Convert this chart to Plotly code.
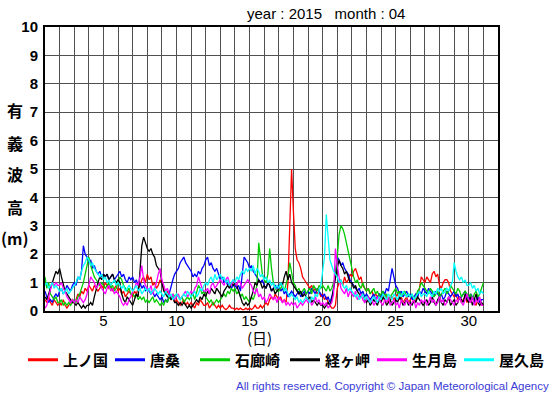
import plotly.graph_objects as go

# ---- data: significant wave height (m), 3-hourly, April 2015 ----
hours = list(range(0, 721, 3))          # hours since Apr 1 00:00
days = [1 + h / 24 for h in hours]      # day-of-month position

names = ["上ノ国", "唐桑", "石廊崎", "経ヶ岬", "生月島", "屋久島"]
colors = ["#ff0000", "#0000ff", "#00cc00", "#000000", "#ff00ff", "#00ffff"]

kaminokuni = [
    0.4, 0.3, 0.5, 0.3, 0.2, 0.4, 0.3, 0.2,
    0.3, 0.2, 0.4, 0.2, 0.1, 0.2, 0.3, 0.4,
    0.3, 0.4, 0.6, 0.5, 0.7, 0.6, 0.8, 0.7,
    0.9, 0.8, 0.7, 0.9, 0.8, 0.7, 0.8, 0.9,
    0.8, 1.0, 0.9, 0.8, 0.9, 0.7, 0.8, 0.9,
    0.7, 0.8, 0.6, 0.7, 0.5, 0.6, 0.7, 0.6,
    0.5, 0.7, 0.6, 0.8, 0.9, 1.1, 1.2, 1.0,
    1.3, 1.1, 1.2, 0.9, 1.0, 0.8, 0.9, 1.1,
    1.0, 0.8, 0.6, 0.7, 0.5, 0.4, 0.5, 0.3,
    0.4, 0.3, 0.2, 0.3, 0.4, 0.2, 0.3, 0.2,
    0.3, 0.2, 0.1, 0.3, 0.2, 0.4, 0.3, 0.2,
    0.2, 0.3, 0.1, 0.2, 0.3, 0.2, 0.1, 0.2,
    0.1, 0.2, 0.1, 0.05, 0.1, 0.2, 0.1, 0.1,
    0.05, 0.1, 0.05, 0.1, 0.05, 0.05, 0.1, 0.05,
    0.1, 0.05, 0.1, 0.2, 0.1, 0.1, 0.2, 0.1,
    0.2, 0.3, 0.2, 0.4, 0.5, 0.4, 0.6, 0.5,
    0.4, 0.5, 0.3, 0.4, 0.3, 1.0, 2.8, 5.0,
    3.5, 2.2, 1.8, 1.7, 1.5, 1.2, 1.1, 1.0,
    0.9, 0.8, 0.9, 0.7, 0.8, 0.6, 0.7, 0.5,
    0.6, 0.4, 0.5, 0.3, 0.2, 0.1, 0.1, 0.2,
    0.8, 1.0, 1.1, 0.9, 1.2, 1.0, 1.1, 1.3,
    1.2, 1.4, 1.5, 1.3, 1.1, 1.2, 0.9, 0.8,
    0.7, 0.8, 0.6, 0.7, 0.5, 0.6, 0.5, 0.4,
    0.5, 0.4, 0.6, 0.5, 0.3, 0.4, 0.5, 0.4,
    0.5, 0.6, 0.4, 0.5, 0.3, 0.4, 0.5, 0.3,
    0.4, 0.5, 0.3, 0.4, 0.5, 0.8, 1.2, 1.1,
    1.0, 1.2, 1.1, 1.0, 1.3, 1.4, 1.2, 1.3,
    0.9, 0.8, 1.0, 1.1, 1.1, 1.0, 0.7, 0.6,
    0.5, 0.6, 0.4, 0.5, 0.3, 0.4, 0.5, 0.3,
    0.4, 0.3, 0.5, 0.3, 0.2, 0.4, 0.3, 0.2,
    0.2,
]

karakuwa = [
    0.7, 0.5, 0.3, 0.4, 0.3, 0.5, 0.6, 0.5,
    0.7, 0.8, 0.6, 0.7, 0.9, 0.8, 0.7, 0.9,
    1.0, 0.9, 1.2, 1.1, 1.4, 2.3, 2.0, 1.9,
    1.7, 1.8, 1.5, 1.6, 1.4, 1.3, 1.4, 1.2,
    1.3, 1.2, 1.3, 1.1, 1.2, 1.3, 1.1, 1.2,
    1.3, 1.4, 1.2, 1.3, 1.1, 1.0, 1.2, 1.1,
    1.2, 1.0, 1.1, 0.9, 1.0, 0.8, 0.9, 0.7,
    0.8, 0.7, 0.6, 0.7, 0.5, 0.6, 0.5, 0.4,
    0.5, 0.3, 0.4, 0.3, 0.6, 0.9, 1.1, 1.3,
    1.4, 1.5, 1.7, 1.8, 1.9, 1.7, 1.6, 1.5,
    1.4, 1.2, 1.3, 1.2, 1.4, 1.3, 1.5, 1.6,
    1.8, 1.9, 1.6, 1.7, 1.5, 1.4, 1.5, 1.3,
    1.1, 1.2, 1.0, 1.1, 0.9, 1.0, 0.8, 0.9,
    0.9, 0.8, 0.9, 0.7, 1.2, 1.9, 1.8, 1.7,
    1.5, 1.6, 1.4, 1.3, 1.2, 1.1, 1.0, 1.1,
    0.9, 0.8, 1.0, 0.9, 0.7, 0.8, 0.9, 0.8,
    0.9, 0.7, 0.8, 0.6, 0.7, 0.5, 0.6, 0.7,
    0.6, 0.5, 0.6, 0.7, 0.5, 0.6, 0.7, 0.6,
    0.7, 0.6, 0.8, 0.7, 0.6, 0.8, 0.7, 0.6,
    0.5, 0.6, 0.4, 0.5, 0.3, 0.5, 0.8, 1.3,
    1.9, 1.8, 1.6, 1.7, 1.5, 1.4, 1.3, 1.1,
    1.0, 0.9, 0.8, 0.7, 0.8, 0.6, 0.7, 0.5,
    0.6, 0.5, 0.4, 0.5, 0.6, 0.4, 0.5, 0.6,
    0.5, 0.7, 0.6, 0.8, 0.7, 1.1, 1.5, 1.2,
    0.9, 0.8, 0.6, 0.7, 0.5, 0.6, 0.7, 0.5,
    0.6, 0.4, 0.5, 0.6, 0.5, 0.7, 0.6, 0.8,
    0.7, 0.6, 0.8, 0.7, 0.6, 0.5, 0.7, 0.6,
    0.5, 0.6, 0.4, 0.5, 0.7, 0.6, 0.5, 0.6,
    0.7, 0.5, 0.6, 0.4, 0.5, 0.6, 0.7, 0.5,
    0.4, 0.6, 0.5, 0.3, 0.4, 0.5, 0.3, 0.4,
    0.4,
]

irozaki = [
    1.2, 0.8, 1.0, 0.6, 0.5, 0.4, 0.5, 0.3,
    0.3, 0.4, 0.2, 0.3, 0.2, 0.3, 0.2, 0.3,
    0.4, 0.3, 0.5, 0.6, 0.8, 1.0, 1.3, 1.6,
    1.9, 1.6, 1.4, 1.2, 1.1, 1.0, 0.9, 1.0,
    0.9, 0.8, 0.9, 1.0, 0.8, 0.9, 0.7, 0.8,
    1.0, 1.2, 1.1, 0.9, 0.8, 0.7, 0.8, 0.6,
    0.6, 0.5, 0.6, 0.4, 0.5, 0.4, 0.5, 0.3,
    0.4, 0.3, 0.4, 0.5, 0.3, 0.4, 0.3, 0.2,
    0.3, 0.2, 0.4, 0.3, 0.5, 0.4, 0.6, 0.5,
    0.6, 0.5, 0.4, 0.5, 0.3, 0.4, 0.5, 0.4,
    0.5, 0.6, 0.4, 0.7, 0.9, 0.8, 0.6, 0.7,
    0.5, 0.4, 0.3, 0.4, 0.2, 0.3, 0.4, 0.3,
    0.4, 0.5, 0.6, 0.5, 0.7, 0.6, 0.8, 0.7,
    0.8, 0.6, 0.7, 0.5, 0.6, 0.4, 0.5, 0.4,
    0.3, 0.5, 0.4, 0.6, 0.9, 2.4, 1.8, 1.3,
    1.1, 1.0, 1.3, 2.2, 1.5, 1.0, 0.8, 0.7,
    0.7, 0.8, 0.9, 0.7, 1.0, 1.2, 1.7, 1.3,
    1.0, 0.9, 0.7, 0.8, 0.6, 0.7, 0.8, 0.6,
    0.7, 0.8, 0.6, 0.9, 0.8, 0.7, 0.9, 0.8,
    0.9, 0.8, 0.7, 0.9, 0.7, 0.8, 1.0, 1.2,
    1.9, 2.7, 3.0, 2.9, 2.7, 2.4, 2.0, 1.7,
    1.4, 1.2, 1.0, 1.1, 0.9, 0.8, 1.0, 0.8,
    0.7, 0.8, 0.6, 0.7, 0.8, 0.6, 0.7, 0.5,
    0.6, 0.7, 0.5, 0.6, 0.4, 0.5, 0.6, 0.7,
    0.8, 0.6, 0.7, 0.5, 0.6, 0.7, 0.5, 0.6,
    0.5, 0.6, 0.4, 0.5, 0.7, 0.8, 1.0, 0.9,
    0.8, 0.7, 0.6, 0.8, 0.7, 0.5, 0.6, 0.7,
    0.5, 0.6, 0.7, 0.8, 0.6, 0.7, 0.9, 0.8,
    0.7, 0.6, 0.8, 0.7, 0.5, 0.6, 0.7, 0.6,
    0.5, 0.6, 0.4, 0.6, 0.7, 0.5, 0.6, 0.8,
    1.0,
]

kyogamisaki = [
    0.5, 0.4, 0.6, 0.8, 1.0, 1.2, 1.4, 1.3,
    1.5, 1.2, 0.9, 0.7, 0.6, 0.5, 0.4, 0.3,
    0.3, 0.2, 0.3, 0.2, 0.1, 0.2, 0.1, 0.2,
    0.2, 0.3, 0.2, 0.5, 0.8, 1.0, 1.2, 1.1,
    1.3, 1.2, 1.3, 1.1, 1.2, 1.3, 1.1, 1.0,
    1.1, 1.0, 0.6, 0.4, 0.3, 0.5, 0.4, 0.3,
    0.2, 0.4, 0.6, 0.5, 1.5, 2.3, 2.6, 2.4,
    2.2, 2.1, 2.2, 2.0, 1.9, 1.6, 1.5, 1.4,
    1.0, 0.7, 0.6, 0.5, 0.6, 0.4, 0.5, 0.3,
    0.3, 0.2, 0.3, 0.2, 0.3, 0.2, 0.1, 0.2,
    0.1, 0.2, 0.3, 0.4, 0.3, 0.5, 0.4, 0.6,
    0.5, 0.7, 0.6, 0.8, 0.7, 0.6, 0.8, 0.7,
    0.6, 0.5, 0.7, 0.8, 0.9, 0.8, 1.0, 0.9,
    1.0, 0.9, 0.7, 0.5, 0.3, 0.2, 0.3, 0.2,
    0.3, 0.5, 0.7, 1.0, 0.9, 1.1, 1.0, 0.8,
    0.9, 0.8, 1.0, 0.9, 0.7, 0.8, 0.6, 0.7,
    0.8, 1.0, 0.9, 1.2, 1.4, 1.1, 1.3, 1.0,
    0.9, 0.8, 0.7, 0.6, 0.7, 0.5, 0.6, 0.5,
    0.4, 0.5, 0.3, 0.4, 0.3, 0.2, 0.3, 0.2,
    0.2, 0.1, 0.2, 0.3, 0.2, 0.4, 0.8, 1.2,
    1.5, 1.8, 1.6, 1.5, 1.3, 1.4, 1.2, 1.0,
    1.0, 0.8, 0.9, 0.7, 0.6, 0.5, 0.6, 0.4,
    0.3, 0.4, 0.2, 0.3, 0.4, 0.3, 0.2, 0.4,
    0.3, 0.5, 0.4, 0.2, 0.3, 0.4, 0.2, 0.3,
    0.4, 0.3, 0.5, 0.4, 0.2, 0.3, 0.4, 0.2,
    0.3, 0.2, 0.4, 0.3, 0.5, 0.4, 0.3, 0.2,
    0.3, 0.4, 0.2, 0.3, 0.5, 0.3, 0.2, 0.4,
    0.5, 0.3, 0.2, 0.4, 0.3, 0.5, 0.2, 0.3,
    0.4, 0.2, 0.3, 0.5, 0.4, 0.3, 0.6, 0.4,
    0.3, 0.5, 0.2, 0.4, 0.6, 0.3, 0.2, 0.3,
    0.2,
]

ikitsukishima = [
    0.1, 0.2, 0.5, 0.8, 1.0, 0.9, 1.0, 0.9,
    0.9, 1.0, 0.8, 0.7, 0.5, 0.4, 0.3, 0.4,
    0.3, 0.4, 0.3, 0.5, 0.4, 0.3, 0.4, 0.6,
    0.9, 1.2, 1.1, 1.0, 0.8, 0.9, 1.0, 0.8,
    0.7, 0.6, 0.8, 0.9, 0.7, 0.8, 0.6, 0.7,
    0.6, 0.5, 0.3, 0.2, 0.3, 0.2, 0.4, 0.5,
    0.7, 0.8, 1.0, 0.9, 1.2, 1.6, 1.1, 0.9,
    0.8, 0.7, 0.9, 0.6, 0.8, 1.0, 1.3, 1.5,
    1.1, 0.9, 0.7, 0.8, 0.6, 0.5, 0.6, 0.4,
    0.5, 0.6, 0.4, 0.5, 0.6, 0.7, 0.5, 0.6,
    0.7, 0.6, 0.8, 0.9, 1.2, 1.0, 0.8, 0.7,
    0.7, 0.8, 0.6, 0.9, 1.0, 0.8, 0.9, 1.0,
    1.1, 1.0, 0.9, 1.1, 1.2, 1.0, 0.9, 1.1,
    1.0, 0.9, 1.1, 1.0, 0.8, 0.9, 1.0, 1.1,
    1.0, 0.9, 0.7, 0.6, 0.8, 0.5, 0.6, 0.4,
    0.5, 0.3, 0.4, 0.6, 0.5, 0.4, 0.5, 0.3,
    0.5, 0.4, 0.3, 0.4, 0.2, 0.3, 0.2, 0.3,
    0.2, 0.3, 0.1, 0.2, 0.3, 0.2, 0.3, 0.4,
    0.3, 0.4, 0.2, 0.3, 0.5, 0.3, 0.4, 0.2,
    0.3, 0.2, 0.3, 0.1, 0.2, 0.3, 0.6, 2.2,
    1.6, 1.1, 0.8, 0.7, 0.6, 0.8, 0.5, 0.7,
    0.6, 0.5, 0.7, 0.4, 0.5, 0.6, 0.4, 0.3,
    0.4, 0.5, 0.3, 0.4, 0.2, 0.3, 0.5, 0.4,
    0.3, 0.2, 0.4, 0.3, 0.5, 0.2, 0.3, 0.4,
    0.2, 0.3, 0.1, 0.4, 0.3, 0.2, 0.4, 0.3,
    0.2, 0.3, 0.4, 0.1, 0.3, 0.2, 0.4, 0.3,
    0.4, 0.2, 0.3, 0.5, 0.3, 0.4, 0.2, 0.3,
    0.5, 0.3, 0.4, 0.2, 0.3, 0.5, 0.4, 0.3,
    0.2, 0.4, 0.3, 0.5, 0.3, 0.2, 0.4, 0.6,
    0.4, 0.3, 0.5, 0.2, 0.4, 0.3, 0.5, 0.2,
    0.2,
]

yakushima = [
    0.9, 1.0, 0.8, 0.9, 1.0, 0.8, 0.9, 0.8,
    0.7, 0.8, 0.6, 0.7, 0.8, 0.6, 0.7, 0.8,
    0.9, 1.0, 1.2, 1.1, 1.4, 1.6, 1.7, 1.9,
    1.8, 1.6, 1.7, 1.5, 1.4, 1.3, 1.2, 1.3,
    1.1, 1.2, 1.0, 1.1, 0.9, 1.0, 1.1, 0.9,
    1.0, 0.9, 0.8, 0.9, 0.7, 0.8, 0.9, 0.8,
    0.7, 0.8, 0.9, 0.7, 0.8, 0.6, 0.7, 0.8,
    0.7, 0.8, 0.6, 0.7, 0.8, 0.7, 0.6, 0.7,
    0.6, 0.5, 0.7, 0.6, 0.5, 0.6, 0.4, 0.5,
    0.6, 0.5, 0.4, 0.5, 0.6, 0.5, 0.7, 0.6,
    0.5, 0.6, 0.7, 0.5, 0.6, 0.8, 0.7, 0.9,
    1.0, 0.9, 1.1, 1.2, 1.0, 1.3, 1.1, 1.2,
    1.3, 1.1, 1.2, 1.0, 1.1, 0.9, 1.0, 1.1,
    1.0, 1.2, 1.1, 1.3, 1.4, 1.3, 1.5, 1.4,
    1.5, 1.4, 1.6, 1.3, 1.5, 1.4, 1.2, 1.3,
    1.1, 1.2, 1.0, 1.1, 0.9, 1.0, 0.8, 0.9,
    0.8, 1.0, 0.9, 0.7, 0.8, 0.6, 0.5, 0.6,
    0.5, 0.4, 0.5, 0.3, 0.4, 0.3, 0.4, 0.5,
    0.4, 0.3, 0.5, 0.4, 0.6, 0.5, 0.7, 0.9,
    1.4, 1.9, 3.4, 2.6, 1.8, 1.6, 1.4, 1.3,
    1.2, 1.0, 1.1, 0.9, 0.8, 0.9, 0.7, 0.8,
    0.7, 0.6, 0.5, 0.6, 0.4, 0.5, 0.6, 0.4,
    0.5, 0.4, 0.3, 0.4, 0.5, 0.4, 0.3, 0.5,
    0.4, 0.6, 0.5, 0.4, 0.6, 0.5, 0.4, 0.6,
    0.5, 0.4, 0.6, 0.5, 0.7, 0.6, 0.5, 0.6,
    0.5, 0.6, 0.4, 0.5, 0.6, 0.7, 0.5, 0.6,
    0.6, 0.5, 0.7, 0.6, 0.5, 0.7, 0.6, 0.8,
    0.7, 0.8, 0.6, 0.7, 0.8, 0.7, 0.9, 1.0,
    1.7, 1.4, 1.2, 1.1, 1.2, 1.0, 1.1, 0.9,
    0.9, 1.0, 0.8, 0.9, 0.7, 0.8, 0.6, 0.7,
    0.6,
]

series = [kaminokuni, karakuwa, irozaki, kyogamisaki, ikitsukishima, yakushima]

x_tick_days = list(range(1, 33))
x_tick_text = [str(d) if d % 5 == 0 else "" for d in x_tick_days]
y_tick_vals = list(range(0, 11))
ylabel_chars = ["有", "義", "波", "高", "(m)"]

LATIN = "Liberation Sans, Arial, sans-serif"
CJK = "Noto Sans CJK JP, sans-serif"

L, R, T, B = 45, 57, 27, 84
W, H = 555, 395
pw, ph = W - L - R, H - T - B

def px_x(px):
    return (px - L) / pw

def px_y(py):
    return (H - B - py) / ph

legend_ids = ["legend", "legend2", "legend3", "legend4", "legend5", "legend6"]
legend_line_start = [31, 118, 203, 293, 380, 467]   # pixel x of each legend sample

fig = go.Figure()
for name, color, vals in zip(names, colors, series):
    fig.add_trace(go.Scatter(
        x=days, y=vals, mode="lines", name=name, showlegend=False,
        line=dict(color=color, width=1.3),
    ))
# legend samples (thicker lines, as in the original key)
for name, color, lid in zip(names, colors, legend_ids):
    fig.add_trace(go.Scatter(
        x=[None], y=[None], mode="lines", name=name, legend=lid,
        line=dict(color=color, width=3),
    ))

legend_style = dict(
    orientation="h", xanchor="left", yanchor="middle",
    font=dict(family=CJK, size=15, color="black", weight="bold"),
    itemwidth=30, bgcolor="rgba(0,0,0,0)", borderwidth=0,
)
legend_layout = {}
for lid, lx in zip(legend_ids, legend_line_start):
    legend_layout[lid] = dict(legend_style, x=px_x(lx - 8), y=px_y(360))

fig.update_layout(
    width=W, height=H,
    margin=dict(l=L, r=R, t=T, b=B, pad=0, autoexpand=False),
    paper_bgcolor="white", plot_bgcolor="white",
    showlegend=True,
    xaxis=dict(
        range=[1, 32], tickmode="array", tickvals=x_tick_days, ticktext=x_tick_text,
        showgrid=True, gridcolor="#505050", gridwidth=1,
        showline=True, linecolor="black", linewidth=2, mirror=True,
        ticks="", zeroline=False, ticklabelstandoff=-5,
        tickfont=dict(family=LATIN, size=15, color="black"),
    ),
    yaxis=dict(
        range=[0, 10], tickmode="array", tickvals=y_tick_vals,
        showgrid=True, gridcolor="#505050", gridwidth=1,
        showline=True, linecolor="black", linewidth=2, mirror=True,
        ticks="", zeroline=False, ticklabelstandoff=2,
        tickfont=dict(family=LATIN, size=15, color="black", weight="bold"),
    ),
    **legend_layout,
)

ann = []
ann.append(dict(text="year : 2015\u00a0\u00a0\u00a0month : 04", x=px_x(326), y=px_y(13),
                xref="paper", yref="paper", xanchor="center", yanchor="middle",
                showarrow=False, font=dict(family=LATIN, size=15, color="black")))
for ch, py in zip(ylabel_chars, [110, 143, 174, 207, 238]):
    ann.append(dict(text=ch, x=px_x(15), y=px_y(py), xref="paper", yref="paper",
                    xanchor="center", yanchor="middle", showarrow=False,
                    font=dict(family=CJK, size=16, color="black", weight="bold")))
ann.append(dict(text="(日)", x=px_x(259), y=px_y(337), xref="paper", yref="paper",
                xanchor="center", yanchor="middle", showarrow=False,
                font=dict(family=CJK, size=15, color="black")))
ann.append(dict(text="All rights reserved. Copyright © Japan Meteorological Agency",
                x=px_x(551), y=px_y(386), xref="paper", yref="paper",
                xanchor="right", yanchor="middle", showarrow=False,
                font=dict(family=LATIN, size=11.5, color="#3b3bd6")))
fig.update_layout(annotations=ann)

fig.write_html("out.html", config={"displayModeBar": False},
               post_script="document.body.style.margin='0';document.body.style.overflow='hidden';")
